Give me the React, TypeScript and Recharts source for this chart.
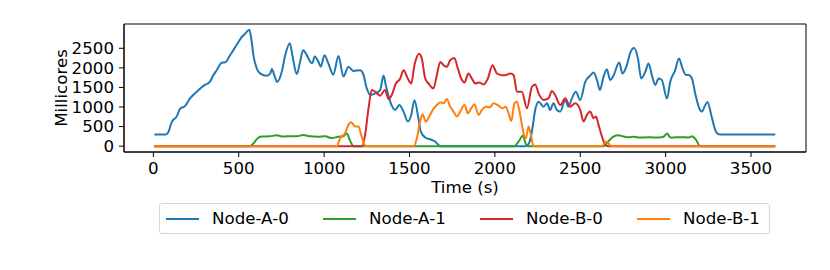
import { LineChart, Line, XAxis, YAxis, Legend, ReferenceArea } from 'recharts';

// [time (s), millicores]
const nodeA0 = [
  [6, 300], [70, 300], [85, 340], [108, 620], [137, 760], [156, 950], [186, 1030], [215, 1220],
  [264, 1430], [293, 1540], [332, 1650], [351, 1810], [371, 1940], [400, 2130], [420, 2140],
  [449, 2320], [479, 2530], [504, 2700], [518, 2790], [537, 2870], [562, 2970], [576, 2660],
  [586, 2320], [606, 1980], [625, 1860], [664, 1800], [684, 1850], [694, 1970], [709, 1800],
  [725, 1640], [752, 1900], [772, 2320], [799, 2630], [814, 2320], [840, 1840], [859, 2150],
  [877, 2450], [899, 2320], [918, 2160], [931, 2120], [945, 2290], [967, 2150], [980, 2030],
  [1002, 2320], [1025, 2110], [1054, 1830], [1084, 2300], [1113, 1780], [1142, 2030], [1172, 1920],
  [1211, 1940], [1228, 1855], [1250, 1474], [1270, 1305], [1299, 1347], [1328, 1432], [1348, 1805],
  [1361, 1560], [1387, 1136], [1416, 924], [1440, 1051], [1465, 882], [1490, 628], [1510, 797],
  [1529, 1170], [1552, 712], [1566, 373], [1592, 221], [1631, 161], [1650, 119], [1680, 0],
  [2178, 0], [2197, 50], [2217, 373], [2236, 924], [2256, 1136], [2285, 1009], [2305, 1093],
  [2324, 924], [2343, 1093], [2363, 924], [2383, 882], [2412, 1178], [2431, 1009], [2451, 1220],
  [2474, 1390], [2500, 1178], [2529, 1644], [2558, 1800], [2578, 1880], [2598, 1687], [2615, 1432],
  [2636, 1771], [2656, 1966], [2675, 1687], [2695, 1805], [2728, 2134], [2747, 1855], [2773, 2068],
  [2793, 2388], [2815, 2505], [2838, 2236], [2857, 1728], [2881, 1898], [2900, 2110], [2920, 1805],
  [2939, 1559], [2959, 1728], [2978, 1687], [3008, 1216], [3027, 1644], [3056, 1940], [3078, 2240],
  [3099, 1982], [3119, 1820], [3135, 1820], [3154, 1728], [3173, 1347], [3197, 966], [3213, 882],
  [3228, 1009], [3245, 1130], [3267, 797], [3290, 416], [3311, 305], [3330, 300], [3642, 300],
];

const nodeA1 = [
  [6, 0], [566, 0], [590, 90], [610, 200], [635, 245], [680, 250], [723, 275], [760, 245],
  [800, 255], [840, 250], [877, 285], [918, 250], [960, 240], [1006, 250], [1045, 205],
  [1084, 240], [1110, 250], [1133, 320], [1152, 140], [1172, 0], [2113, 0], [2140, 120],
  [2164, 270], [2178, 90], [2190, 0], [2636, 0], [2660, 100], [2690, 230], [2720, 275],
  [2760, 240], [2783, 225], [2812, 237], [2850, 220], [2900, 225], [2960, 220], [2988, 240],
  [3008, 320], [3027, 220], [3060, 225], [3100, 230], [3135, 220], [3154, 254], [3175, 180],
  [3203, 0], [3642, 0],
];

const nodeB0 = [
  [6, 0], [1221, 0], [1240, 288], [1260, 966], [1279, 1432], [1299, 1390], [1328, 1290],
  [1357, 1432], [1377, 1203], [1396, 1305], [1420, 1601], [1445, 1720], [1465, 1940], [1490, 1728],
  [1510, 1601], [1529, 2068], [1556, 2363], [1572, 2240], [1592, 1728], [1611, 1601], [1640, 1474],
  [1660, 1813], [1680, 2152], [1699, 2068], [1719, 2025], [1738, 2195], [1763, 2254], [1783, 1982],
  [1803, 1728], [1822, 1626], [1845, 1855], [1865, 1728], [1885, 1601], [1908, 1626], [1934, 1576],
  [1959, 1728], [1986, 2068], [2012, 1855], [2041, 1813], [2060, 1813], [2090, 1855], [2110, 1810],
  [2129, 1390], [2158, 1390], [2188, 966], [2217, 1517], [2236, 1576], [2256, 1347], [2285, 1178],
  [2314, 1220], [2334, 1407], [2353, 1305], [2383, 1051], [2412, 1220], [2441, 1009], [2470, 1093],
  [2500, 924], [2519, 628], [2539, 797], [2558, 882], [2578, 712], [2592, 755], [2607, 543],
  [2627, 246], [2646, 40], [2665, 0], [3642, 0],
];

const nodeB1 = [
  [6, 0], [1074, 0], [1094, 200], [1123, 330], [1142, 543], [1158, 610], [1182, 500], [1201, 500],
  [1217, 288], [1236, 40], [1250, 0], [1525, 0], [1543, 200], [1562, 628], [1576, 813], [1596, 628],
  [1615, 755], [1640, 950], [1660, 1051], [1680, 1118], [1699, 1093], [1719, 1203], [1738, 1009],
  [1758, 882], [1777, 755], [1797, 882], [1822, 1051], [1842, 840], [1861, 966], [1881, 1068],
  [1904, 797], [1924, 924], [1947, 1009], [1970, 990], [1992, 1093], [2021, 1034], [2045, 966],
  [2064, 1009], [2080, 840], [2096, 645], [2115, 1093], [2129, 1136], [2148, 797], [2168, 330],
  [2182, 203], [2197, 500], [2213, 246], [2226, 0], [2625, 0], [2656, 119], [2680, 0], [3642, 0],
];

const seriesNames = ['Node-A-0', 'Node-A-1', 'Node-B-0', 'Node-B-1'];
const seriesColors = ['#1f77b4', '#2ca02c', '#d62728', '#ff7f0e'];
const seriesData = [nodeA0, nodeA1, nodeB0, nodeB1];

const xTicks = [0, 500, 1000, 1500, 2000, 2500, 3000, 3500];
const yTicks = [0, 500, 1000, 1500, 2000, 2500];
const xDomain = [-172, 3822];
const yDomain = [-150, 3120];

const FONT = 16.67;

const toRows = (pts: number[][]) => pts.map(([t, v]) => ({ t, v }));

function MplLegend() {
  return (
    <div
      style={{
        boxSizing: 'border-box',
        width: 611,
        height: 31,
        border: '1px solid #d6d6d6',
        borderRadius: 3,
        background: 'rgba(255,255,255,0.8)',
        display: 'flex',
        alignItems: 'center',
        paddingLeft: 6,
        fontSize: FONT,
        color: '#000',
      }}
    >
      {seriesNames.map((name, i) => (
        <div key={name} style={{ display: 'flex', alignItems: 'center', marginRight: i < 3 ? 33 : 0 }}>
          <svg width={33} height={4} style={{ marginRight: 13 }}>
            <line x1={0} y1={2} x2={33} y2={2} stroke={seriesColors[i]} strokeWidth={2} />
          </svg>
          <span style={{ width: 78, whiteSpace: 'nowrap', lineHeight: '20px' }}>{name}</span>
        </div>
      ))}
    </div>
  );
}

export default function App() {
  const tickStyle = { fill: '#000', fontSize: FONT };
  return (
    <div style={{ position: 'absolute', left: 0, top: 0, width: 830, height: 270, background: '#fff', fontFamily: '"DejaVu Sans", sans-serif' }}>
      <LineChart width={830} height={270} margin={{ top: 24, right: 24, bottom: 72, left: 0 }}>
        <XAxis
          type="number"
          dataKey="t"
          domain={xDomain}
          ticks={xTicks}
          interval={0}
          allowDataOverflow
          height={46}
          stroke="#000"
          tickSize={5}
          tickMargin={5.5}
          tick={tickStyle}
          label={{ value: 'Time (s)', position: 'insideBottom', offset: 5, fill: '#000', fontSize: FONT }}
        />
        <YAxis
          type="number"
          dataKey="v"
          domain={yDomain}
          ticks={yTicks}
          interval={0}
          allowDataOverflow
          width={124}
          stroke="#000"
          tickSize={5}
          tickMargin={5}
          tick={tickStyle}
          label={{ value: 'Millicores', angle: -90, position: 'insideLeft', offset: 61, fill: '#000', fontSize: FONT, style: { textAnchor: 'middle' } }}
        />
        <ReferenceArea x1={xDomain[0]} x2={xDomain[1]} y1={yDomain[0]} y2={yDomain[1]} fill="none" stroke="#000" strokeWidth={1} ifOverflow="visible" />
        {seriesData.map((pts, i) => (
          <Line
            key={seriesNames[i]}
            data={toRows(pts)}
            dataKey="v"
            name={seriesNames[i]}
            type="monotone"
            stroke={seriesColors[i]}
            strokeWidth={2}
            dot={false}
            isAnimationActive={false}
          />
        ))}
        <Legend
          layout="horizontal"
          verticalAlign="middle"
          align="center"
          wrapperStyle={{ left: 159, top: 203, width: 611, height: 31 }}
          content={() => <MplLegend />}
        />
      </LineChart>
    </div>
  );
}
